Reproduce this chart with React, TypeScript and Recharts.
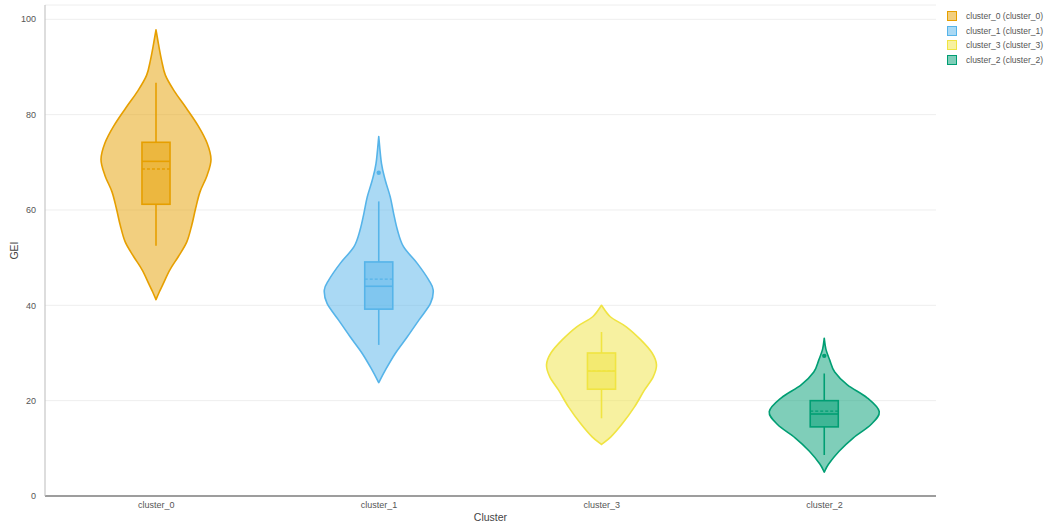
import React from 'react';
import { ComposedChart, Bar, XAxis, YAxis, CartesianGrid } from 'recharts';

const CATEGORIES = ['cluster_0', 'cluster_1', 'cluster_3', 'cluster_2'];
const COLORS = ['#E69F00', '#56B4E9', '#F0E442', '#009E73'];
const FILLS = ['rgba(230,159,0,0.5)', 'rgba(86,180,233,0.5)', 'rgba(240,228,66,0.5)', 'rgba(0,158,115,0.5)'];

// KDE profiles: [GEI value, relative density (0..1)]
const PROFILE_CLUSTER_0: [number, number][] = [
  [41.2, 0], [42.8, 0.06], [44.5, 0.13], [47.4, 0.25], [50.3, 0.41], [53.3, 0.56], [56.8, 0.65],
  [60.3, 0.72], [63.8, 0.8], [67.3, 0.93], [70.6, 1.0], [74.0, 0.93], [77.6, 0.77], [81.4, 0.55],
  [85.0, 0.33], [88.3, 0.17], [91.5, 0.1], [94.8, 0.045], [97.8, 0],
];
const PROFILE_CLUSTER_1: [number, number][] = [
  [23.8, 0], [26.4, 0.12], [29.9, 0.3], [33.4, 0.52], [36.9, 0.73], [40.4, 0.94], [43.2, 0.99],
  [45.3, 0.91], [48.8, 0.7], [52.3, 0.45], [55.8, 0.34], [59.3, 0.27], [62.7, 0.21], [66.2, 0.12],
  [69.7, 0.05], [75.4, 0],
];
const PROFILE_CLUSTER_3: [number, number][] = [
  [10.8, 0], [12.4, 0.17], [15.2, 0.38], [18.7, 0.6], [22.2, 0.78], [25.0, 0.94], [27.5, 1.0],
  [30.0, 0.92], [32.7, 0.72], [35.5, 0.45], [37.6, 0.16], [40.0, 0],
];
const PROFILE_CLUSTER_2: [number, number][] = [
  [5.0, 0], [6.7, 0.08], [9.4, 0.27], [12.2, 0.53], [15.0, 0.85], [17.7, 1.0], [20.6, 0.78],
  [23.3, 0.42], [26.0, 0.19], [28.5, 0.1], [30.8, 0.03], [33.1, 0],
];
const PROFILES = [PROFILE_CLUSTER_0, PROFILE_CLUSTER_1, PROFILE_CLUSTER_3, PROFILE_CLUSTER_2];

const LOWER_WHISKER = [52.5, 31.7, 16.3, 8.6];
const Q1 = [61.2, 39.2, 22.4, 14.5];
const MEDIAN = [70.2, 44.0, 26.2, 17.2];
const MEAN = [68.6, 45.5, 26.3, 17.8];
const Q3 = [74.2, 49.1, 30.0, 20.0];
const UPPER_WHISKER = [86.7, 61.8, 34.4, 25.7];
const OUTLIERS: number[][] = [[], [67.8], [], [29.4]];

const Y_TICKS = [0, 20, 40, 60, 80, 100];

const data = CATEGORIES.map((name, i) => {
  const vals = PROFILES[i].map((p) => p[0]);
  return {
    name,
    idx: i,
    lo: Math.min(...vals),
    hi: Math.max(...vals),
  };
});

const FONT = '"Liberation Sans", Arial, sans-serif';

function catmull(pts: [number, number][]): string {
  let d = '';
  for (let i = 0; i < pts.length - 1; i++) {
    const p0 = pts[i - 1] || pts[i];
    const p1 = pts[i];
    const p2 = pts[i + 1];
    const p3 = pts[i + 2] || pts[i + 1];
    const c1x = p1[0] + (p2[0] - p0[0]) / 6;
    const c1y = p1[1] + (p2[1] - p0[1]) / 6;
    const c2x = p2[0] - (p3[0] - p1[0]) / 6;
    const c2y = p2[1] - (p3[1] - p1[1]) / 6;
    d += ` C${c1x},${c1y} ${c2x},${c2y} ${p2[0]},${p2[1]}`;
  }
  return d;
}

const ViolinShape = (props: any) => {
  const { x, y, width, height, payload } = props;
  const i = payload.idx;
  const top = Math.min(y, y + height);
  const bottom = Math.max(y, y + height);
  const lo = payload.lo;
  const hi = payload.hi;
  const py = (v: number) => bottom - ((v - lo) / (hi - lo)) * (bottom - top);
  const cx = x + width / 2;
  const half = width / 2;
  const prof = PROFILES[i];
  const right: [number, number][] = prof.map((p) => [cx + p[1] * half, py(p[0])]);
  const left: [number, number][] = prof.slice().reverse().map((p) => [cx - p[1] * half, py(p[0])]);
  const d = `M${right[0][0]},${right[0][1]}` + catmull(right) + catmull(left) + ' Z';
  const color = COLORS[i];
  const fill = FILLS[i];
  const bw = width * 0.255;
  const bx = cx - bw / 2;
  return (
    <g>
      <path d={d} fill={fill} stroke={color} strokeWidth={1.6} strokeLinejoin="round" />
      <line x1={cx} x2={cx} y1={py(UPPER_WHISKER[i])} y2={py(Q3[i])} stroke={color} strokeWidth={1.6} />
      <line x1={cx} x2={cx} y1={py(Q1[i])} y2={py(LOWER_WHISKER[i])} stroke={color} strokeWidth={1.6} />
      <rect x={bx} y={py(Q3[i])} width={bw} height={py(Q1[i]) - py(Q3[i])} fill={fill} stroke={color} strokeWidth={1.6} />
      <line x1={bx} x2={bx + bw} y1={py(MEDIAN[i])} y2={py(MEDIAN[i])} stroke={color} strokeWidth={1.6} />
      <line x1={bx} x2={bx + bw} y1={py(MEAN[i])} y2={py(MEAN[i])} stroke={color} strokeWidth={1.3} strokeDasharray="3,2" />
      {OUTLIERS[i].map((v, k) => (
        <circle key={k} cx={cx} cy={py(v)} r={2.2} fill={color} />
      ))}
    </g>
  );
};

export default function App() {
  return (
    <div style={{ position: 'absolute', left: 0, top: 0, width: 1051, height: 525, background: '#fff' }}>
      <ComposedChart
        width={1051}
        height={525}
        data={data}
        margin={{ top: 5, right: 115, left: 0, bottom: 0 }}
      >
        <CartesianGrid vertical={false} stroke="#eeeeee" />
        <XAxis
          dataKey="name"
          type="category"
          height={29}
          axisLine={{ stroke: '#444', strokeWidth: 1.2 }}
          tickLine={false}
          tickSize={0}
          tickMargin={6}
          tick={{ fontSize: 9, fill: '#555', fontFamily: FONT }}
          label={(p: any) => {
            const vb = p.viewBox;
            return (
              <text x={vb.x + vb.width / 2} y={vb.y + 25} textAnchor="middle" fontSize={10.5} fill="#444" fontFamily={FONT}>
                Cluster
              </text>
            );
          }}
        />
        <YAxis
          type="number"
          domain={[0, 103]}
          ticks={Y_TICKS}
          width={45}
          axisLine={{ stroke: '#bbb', strokeWidth: 1 }}
          tickLine={false}
          tickSize={0}
          tickMargin={9}
          tick={{ fontSize: 9, fill: '#555', fontFamily: FONT }}
          label={(p: any) => {
            const vb = p.viewBox;
            const tx = vb.x + 18;
            const ty = vb.y + vb.height / 2;
            return (
              <text x={tx} y={ty} textAnchor="middle" fontSize={10.5} fill="#444" fontFamily={FONT} transform={`rotate(-90 ${tx} ${ty})`}>
                GEI
              </text>
            );
          }}
        />
        <Bar dataKey={(d: any) => [d.lo, d.hi]} barSize={110} shape={ViolinShape} isAnimationActive={false} />
      </ComposedChart>
      <div style={{ position: 'absolute', left: 947, top: 9, fontFamily: FONT, fontSize: 8.5, color: '#555' }}>
        {CATEGORIES.map((c, i) => (
          <div key={c} style={{ display: 'flex', alignItems: 'center', height: 14.6 }}>
            <div style={{ width: 10, height: 10, background: FILLS[i], border: `1.3px solid ${COLORS[i]}`, boxSizing: 'border-box' as any }} />
            <span style={{ marginLeft: 9, whiteSpace: 'nowrap' }}>{`${c} (${c})`}</span>
          </div>
        ))}
      </div>
    </div>
  );
}
